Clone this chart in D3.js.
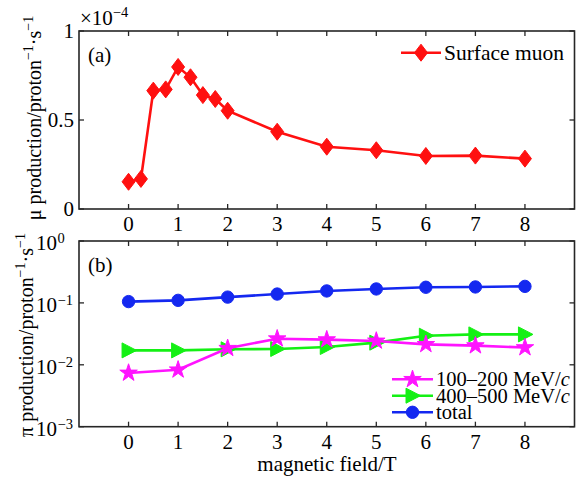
<!DOCTYPE html>
<html><head><meta charset="utf-8">
<script src="https://cdn.jsdelivr.net/npm/d3@7"></script>
<style>body{margin:0;background:#fff}svg{display:block}text{font-family:"Liberation Serif","Times New Roman",serif;fill:#000}</style>
</head><body>
<svg id="c" width="580" height="477"></svg>
<script>
const muField = [0,0.25,0.5,0.75,1,1.25,1.5,1.75,2,3,4,5,6,7,8];
const muValues = [0.153,0.169,0.665,0.672,0.798,0.74,0.64,0.618,0.552,0.434,0.35,0.33,0.298,0.30,0.283];
const piField = [0,1,2,3,4,5,6,7,8];
const pi100 = [0.00738,0.0083,0.0185,0.0264,0.0255,0.0243,0.0214,0.0204,0.019];
const pi400 = [0.0171,0.0171,0.0178,0.018,0.0194,0.0228,0.0295,0.031,0.031];
const piTotal = [0.105,0.11,0.124,0.139,0.156,0.168,0.179,0.181,0.185];
const xTicks = [0,1,2,3,4,5,6,7,8];
const yTicksTop = [0,0.5,1];
const yTickLabelsTop = ["0","0.5","1"];
const yTicksBot = [1e-3,1e-2,1e-1,1];
const yTickExpBot = ["\u22123","\u22122","\u22121","0"];
const legendTop = ["Surface muon"];
const legendBot = ["100\u2013200 MeV/","400\u2013500 MeV/","total"];

const svg = d3.select("#c");
const L=79, R=574.5;
const axisCol="#262626";
const FS=21;
const x = d3.scaleLinear().domain([-1,9]).range([L,R]);
const yA = d3.scaleLinear().domain([0,1]).range([209,31]);
const yB = d3.scaleLog().domain([1e-3,1]).range([426.7,241]);

function frame(y0,y1,yTicks,yScale){
  const g=svg.append("g");
  xTicks.forEach(t=>{
    g.append("line").attr("x1",x(t)).attr("x2",x(t)).attr("y1",y1).attr("y2",y1-5).attr("stroke",axisCol).attr("stroke-width",1.3);
    g.append("line").attr("x1",x(t)).attr("x2",x(t)).attr("y1",y0).attr("y2",y0+5).attr("stroke",axisCol).attr("stroke-width",1.3);
  });
  yTicks.forEach(t=>{
    g.append("line").attr("x1",L).attr("x2",L+5).attr("y1",yScale(t)).attr("y2",yScale(t)).attr("stroke",axisCol).attr("stroke-width",1.3);
    g.append("line").attr("x1",R).attr("x2",R-5).attr("y1",yScale(t)).attr("y2",yScale(t)).attr("stroke",axisCol).attr("stroke-width",1.3);
  });
  g.append("rect").attr("x",L).attr("y",y0).attr("width",R-L).attr("height",y1-y0).attr("fill","none").attr("stroke",axisCol).attr("stroke-width",1.6);
  xTicks.forEach(t=>{
    g.append("text").attr("x",x(t)).attr("y",y1+22).attr("text-anchor","middle").attr("font-size",FS).text(t);
  });
}
frame(31,209,yTicksTop,yA);
frame(241,426.7,yTicksBot,yB);

yTicksTop.forEach((t,i)=>{
  svg.append("text").attr("x",74).attr("y",yA(t)+7).attr("text-anchor","end").attr("font-size",FS).text(yTickLabelsTop[i]);
});
const ex=svg.append("text").attr("x",80).attr("y",25).attr("font-size",FS);
ex.append("tspan").text("\u00d710");
ex.append("tspan").attr("font-size",14.5).attr("dy",-8).text("\u22124");

yTicksBot.forEach((t,i)=>{
  svg.append("text").attr("x",57).attr("y",yB(t)+9).attr("text-anchor","end").attr("font-size",FS).text("10");
  svg.append("text").attr("x",57.5).attr("y",yB(t)+2).attr("font-size",14.5).text(yTickExpBot[i]);
});

svg.append("text").attr("x",88).attr("y",62).attr("font-size",FS).text("(a)");
svg.append("text").attr("x",88).attr("y",272).attr("font-size",FS).text("(b)");

svg.append("text").attr("x",327).attr("y",471).attr("text-anchor","middle").attr("font-size",FS).text("magnetic field/T");
function ylab(cx,cy,sym,fs){
  const t=svg.append("text").attr("transform",`translate(${cx},${cy}) rotate(-90)`).attr("text-anchor","middle").attr("font-size",fs);
  t.append("tspan").text(sym+" production/proton");
  t.append("tspan").attr("font-size",14).attr("dy",-8).text("\u22121");
  t.append("tspan").attr("dy",8).text("\u00b7s");
  t.append("tspan").attr("font-size",14).attr("dy",-8).text("\u22121");
}
ylab(41,118,"\u03bc",20);
ylab(33,335,"\u03c0",20);

const diamond="M0,-8.5L6.5,0L0,8.5L-6.5,0Z";
const triR="M-6.5,-7.5L8,0L-6.5,7.5Z";
const star=d3.symbol().type(d3.symbolStar).size(95)();
const circ=d3.symbol().type(d3.symbolCircle).size(120)();

function series(xs,ys,yScale,col,path){
  const line=d3.line().x((d,i)=>x(xs[i])).y(d=>yScale(d));
  svg.append("path").attr("d",line(ys)).attr("fill","none").attr("stroke",col).attr("stroke-width",2.6);
  ys.forEach((v,i)=>{
    svg.append("path").attr("d",path).attr("transform",`translate(${x(xs[i])},${yScale(v)})`).attr("fill",col).attr("stroke",col).attr("stroke-width",1);
  });
}
const red="#ff1010", blue="#1428f0", green="#14f014", mag="#ff14ff";
series(muField,muValues,yA,red,diamond);
series(piField,piTotal,yB,blue,circ);
series(piField,pi400,yB,green,triR);
series(piField,pi100,yB,mag,star);

function legItem(x0,x1,y,col,path,label,italic,fs){
  svg.append("line").attr("x1",x0).attr("x2",x1).attr("y1",y).attr("y2",y).attr("stroke",col).attr("stroke-width",2.6);
  svg.append("path").attr("d",path).attr("transform",`translate(${(x0+x1)/2},${y})`).attr("fill",col).attr("stroke",col);
  const t=svg.append("text").attr("x",x1+3).attr("y",y+7).attr("font-size",fs);
  t.append("tspan").text(label);
  if(italic) t.append("tspan").attr("font-style","italic").text("c");
}
legItem(401,441,52.7,red,diamond,legendTop[0],false,21.5);
legItem(392,433,379.3,mag,star,legendBot[0],true,20.5);
legItem(392,433,395.7,green,triR,legendBot[1],true,20.5);
legItem(392,433,412.3,blue,circ,legendBot[2],false,20.5);
</script>
</body></html>
